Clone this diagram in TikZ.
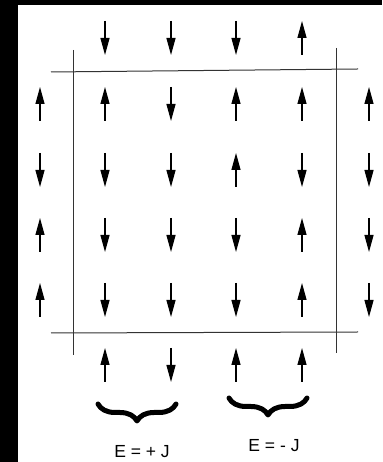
\documentclass[tikz,border=0pt]{standalone}
\usepackage{fontspec}
\setmainfont{Liberation Sans}
\usetikzlibrary{arrows.meta,decorations.pathreplacing}
\begin{document}
\begin{tikzpicture}[x=1pt,y=1pt,
  spin/.style={line width=1.2pt,-{Triangle[length=17pt,width=9pt]}},
  framed/.style={line width=1pt,draw=black!80},
  bracestyle/.style={line width=5pt,line cap=round,line join=round,decorate,decoration={brace,mirror,amplitude=17pt}},
  lab/.style={font=\fontsize{17.5}{18}\selectfont,inner sep=0pt,anchor=base}]
\useasboundingbox (0,0) rectangle (382,462);
\fill[black] (0,0) rectangle (18,462);
\fill[black] (0,457) rectangle (382,462);
% frame lines
\coordinate (tl) at (51,390); \coordinate (tr) at (358,393);
\coordinate (bl) at (51,129); \coordinate (br) at (358,130);
\coordinate (lt) at (73,412); \coordinate (lb) at (73,107);
\coordinate (rt) at (336,414); \coordinate (rb) at (336,109);
\draw[framed] (tl) -- (tr);
\draw[framed] (bl) -- (br);
\draw[framed] (lt) -- (lb);
\draw[framed] (rt) -- (rb);
% spins: name/x/Y/dir (1 = down, -1 = up)
\foreach \n/\x/\Y/\d in {
  r0c2/105/424/1, r0c3/171/424/1, r0c4/236/424/1, r0c5/302/424/-1,
  r1c1/40/358/-1, r1c2/105/358/-1, r1c3/171/358/1, r1c4/236/358/-1, r1c5/302/358/-1, r1c6/369/358/-1,
  r2c1/40/292/1, r2c2/105/292/1, r2c3/171/292/1, r2c4/236/292/-1, r2c5/302/292/1, r2c6/369/292/1,
  r3c1/40/227/-1, r3c2/105/227/1, r3c3/171/227/1, r3c4/236/227/1, r3c5/302/227/-1, r3c6/369/227/1,
  r4c1/40/162/-1, r4c2/105/162/1, r4c3/171/162/1, r4c4/236/162/1, r4c5/302/162/-1, r4c6/369/162/1,
  r5c2/105/97/-1, r5c3/171/97/1, r5c4/236/97/-1, r5c5/302/97/-1}
{
  \coordinate (\n a) at (\x,{\Y+17*(\d)});
  \coordinate (\n b) at (\x,{\Y-17*(\d)});
  \draw[spin] (\n a) -- (\n b);
}
% braces
\coordinate (b1l) at (98,58); \coordinate (b1r) at (176,58);
\coordinate (b2l) at (229,64); \coordinate (b2r) at (307,64);
\draw[bracestyle] (b1l) -- (b1r);
\draw[bracestyle] (b2l) -- (b2r);
\node[lab] (e1) at (142,5) {E = + J};
\node[lab] (e2) at (274,10) {E = - J};
\end{tikzpicture}
\end{document}
